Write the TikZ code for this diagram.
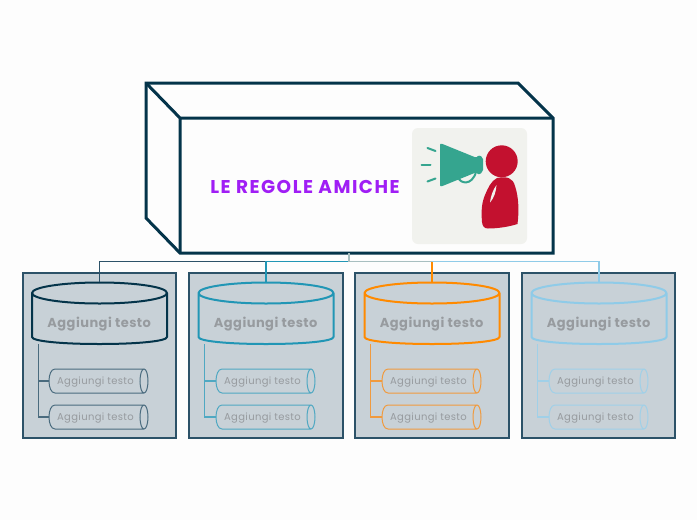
\documentclass[tikz,border=0pt]{standalone}
\usepackage{fontspec}
\setmainfont{Poppins}
\definecolor{pagebg}{HTML}{FDFDFD}
\definecolor{ink}{HTML}{04344A}
\definecolor{panelfill}{HTML}{C8D1D7}
\definecolor{panelline}{HTML}{2C5268}
\definecolor{teal}{HTML}{2196B5}
\definecolor{amber}{HTML}{FF8A00}
\definecolor{sky}{HTML}{8FCBE8}
\definecolor{subink}{HTML}{4A6B7E}
\definecolor{subteal}{HTML}{4FA8C2}
\definecolor{subamber}{HTML}{F09A3E}
\definecolor{subsky}{HTML}{A0D0E8}
\definecolor{greylink}{HTML}{A8BFC0}
\definecolor{labelgrey}{HTML}{979B9F}
\definecolor{titlepurple}{HTML}{A01EF5}
\definecolor{iconbg}{HTML}{F1F2EE}
\definecolor{horn}{HTML}{35A58F}
\definecolor{figure}{HTML}{C3112F}
\tikzset{
  panel/.style={draw=panelline,fill=panelfill,line width=1.4pt},
  boxedge/.style={draw=ink,line width=3pt,line join=miter},
  headlabel/.style={inner sep=0pt,text=labelgrey,font=\fontsize{13}{15}\selectfont\bfseries\addfontfeature{LetterSpace=3.5}},
  sublabel/.style={inner sep=0pt,text=labelgrey,font=\fontsize{10}{12}\selectfont\addfontfeature{LetterSpace=3.5}},
  hornline/.style={draw=horn,line width=2pt,line cap=round},
  toplink/.style={line width=1.7pt},
  sublink/.style={line width=1.1pt},
}
% Drum with a flat ellipse on top: centre x, colour, name suffix
\newcommand{\drum}[3]{%
  \draw[#2,line width=2pt,line join=round]
    (#1,293) ellipse[x radius=67.5,y radius=10.5]
    (#1-67.5,293) -- (#1-67.5,337) .. controls (#1-67.5,341) and (#1-40,344) .. (#1,344)
    .. controls (#1+40,344) and (#1+67.5,341) .. (#1+67.5,337) -- (#1+67.5,293);
  \node[inner sep=0pt,minimum width=135pt,minimum height=62pt,anchor=south] (head#3) at (#1,344) {};
  \node[headlabel] at (#1-0.3,324) {Aggiungi testo};
}
% Small horizontal tube: left x, centre y, colour, node name
\newcommand{\tube}[4]{%
  \draw[#3,line width=1pt]
    (#1+95,#2) ellipse[x radius=4,y radius=12]
    (#1+95,#2-12) -- (#1+6,#2-12) .. controls (#1+2,#2-12) and (#1,#2-6) .. (#1,#2)
    .. controls (#1,#2+6) and (#1+2,#2+12) .. (#1+6,#2+12) -- (#1+95,#2+12);
  \node[inner sep=0pt,minimum width=99pt,minimum height=24pt,anchor=west] (#4) at (#1,#2) {};
  \node[sublabel] at (#1+46.5,#2+0.7) {Aggiungi testo};
}
\begin{document}
\begin{tikzpicture}[x=1pt,y=-1pt]
\useasboundingbox[fill=pagebg] (0,0) rectangle (697,520);

% Panels behind each branch
\foreach \l/\r in {23/176,189/343,355/509,522/675}
  \draw[panel] (\l,273) rectangle (\r,438);

% Main block
\node[inner sep=0pt,minimum width=373pt,minimum height=135pt] (block) at (366.5,185.5) {};
\draw[boxedge,fill=pagebg] (146,83) -- (518,83) -- (553,118) -- (553,253) -- (180,253) -- (146,218) -- cycle;
\draw[boxedge] (146,83) -- (180,118) -- (553,118) (180,118) -- (180,253);
\node[inner sep=0pt,text=titlepurple,font=\fontsize{18.5}{20}\selectfont\bfseries\addfontfeature{LetterSpace=8}] (title) at (305,186.5) {LE REGOLE AMICHE};

% Icon tile: a figure shouting through a megaphone
\fill[iconbg,rounded corners=6pt] (412,128) rectangle (527,244);
\draw[horn,line width=2pt] (458,177) .. controls (460,184) and (472,186) .. (476,172);
\fill[horn,rounded corners=2pt] (440,143) -- (477,158) -- (478,155) -- (483,157) -- (483,172) -- (478,175) -- (477,172) -- (440,187) -- cycle;
\draw[hornline] (427.5,148) -- (435.5,151);
\draw[hornline] (421.5,164.5) -- (430.5,164.5);
\draw[hornline] (427.5,181.5) -- (435.5,178.5);
\fill[figure] (501.7,161.3) circle[radius=16];
\fill[figure] (497,178) .. controls (507,176) and (513,178) .. (515,186)
  .. controls (519,198) and (519,212) .. (517.5,224)
  .. controls (508,227) and (497,228.5) .. (488,228.5)
  .. controls (484,228.5) and (482.5,226) .. (482,222)
  .. controls (481,210) and (482,202) .. (485,195)
  .. controls (488,188) and (491,181) .. (497,178) -- cycle;
\fill[iconbg] (496.5,185) .. controls (496,192) and (494,198) .. (490,202.5)
  .. controls (491,195) and (493,190) .. (496.5,185) -- cycle;

% Drums and their labels
\drum{99.5}{ink}{a}
\drum{266}{teal}{b}
\drum{432}{amber}{c}
\drum{599}{sky}{d}

% Tubes
\tube{49}{381}{subink}{aone}   \tube{49}{417}{subink}{atwo}
\tube{216}{381}{subteal}{bone} \tube{216}{417}{subteal}{btwo}
\tube{382}{381}{subamber}{cone}\tube{382}{417}{subamber}{ctwo}
\tube{549}{381}{subsky}{done}  \tube{549}{417}{subsky}{dtwo}

% Links from the block to the drums
\coordinate (trunk) at (349,261.5);
\draw[panelline,toplink] (trunk -| headb.north) -- (trunk -| heada.north) -- (heada.north);
\draw[teal,toplink] (trunk) -- (trunk -| headb.north) -- (headb.north);
\draw[sky,toplink] (trunk -| headc.north) -- (trunk -| headd.north) -- (headd.north);
\draw[greylink,toplink] (block.south -| trunk) -- (trunk) -- (trunk -| headc.north);
\draw[amber,toplink] (trunk -| headc.north) -- (headc.north);

% Links from each drum to its two tubes
\foreach \h/\c/\up/\dn in {a/subink/aone/atwo,b/subteal/bone/btwo,c/subamber/cone/ctwo,d/subsky/done/dtwo}{
  \coordinate (spine) at ([xshift=6.5pt]head\h.south west);
  \draw[\c,sublink] (spine) |- (\up.west);
  \draw[\c,sublink] (spine) |- (\dn.west);
}
\end{tikzpicture}
\end{document}
